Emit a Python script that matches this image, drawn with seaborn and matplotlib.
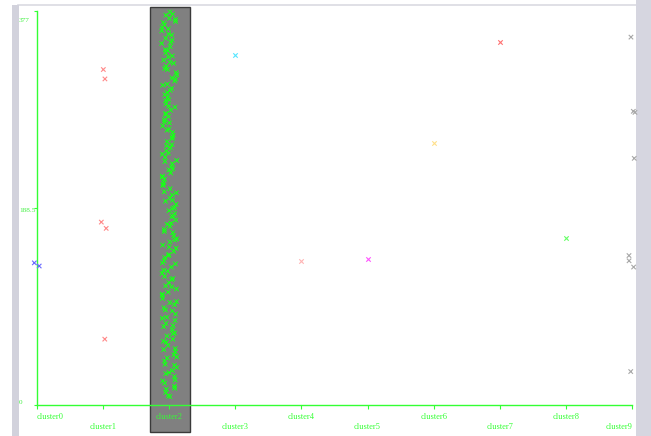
import numpy as np
import pandas as pd
import matplotlib
matplotlib.use('Agg')
import matplotlib.pyplot as plt
import matplotlib.transforms as mtransforms
from matplotlib.patches import Rectangle
import seaborn as sns

# 클러스터 이름과 색
clusters = ['cluster0', 'cluster1', 'cluster2', 'cluster3', 'cluster4',
            'cluster5', 'cluster6', 'cluster7', 'cluster8', 'cluster9']
colors = ['#6a6aff', '#ff8a8a', '#19ff19', '#55e6ff', '#ffb4b4',
          '#ff55ff', '#ffe08a', '#ff7070', '#66ff66', '#a8a8a8']

# 각 클러스터 값
vals0 = [136, 133]
vals1 = [321, 312, 175, 169, 63]
vals2 = [376, 374, 373, 370, 369, 367, 366, 364, 361, 360, 358, 355, 354, 351,
         349, 347, 346, 343, 340, 339, 337, 334, 333, 330, 328, 327, 324, 322,
         321, 318, 316, 313, 312, 310, 307, 306, 303, 301, 299, 297, 295, 292,
         291, 288, 286, 285, 282, 279, 278, 276, 273, 271, 270, 267, 264, 263,
         261, 258, 256, 255, 252, 249, 248, 246, 243, 241, 240, 237, 234, 233,
         231, 228, 226, 225, 222, 219, 218, 216, 213, 211, 210, 207, 204, 203,
         201, 198, 196, 195, 192, 189, 188, 186, 183, 181, 180, 177, 174, 173,
         171, 168, 166, 165, 162, 159, 158, 156, 153, 151, 150, 147, 144, 143,
         141, 138, 136, 135, 132, 129, 128, 126, 123, 121, 120, 117, 114, 113,
         111, 108, 106, 105, 102, 99, 98, 96, 93, 91, 90, 87, 84, 83, 81, 78,
         76, 75, 72, 69, 68, 66, 63, 61, 60, 57, 54, 53, 51, 48, 46, 45, 42,
         39, 38, 36, 33, 31, 30, 27, 24, 23, 21, 18, 16, 15, 12, 9, 8]
vals3 = [335]
vals4 = [138]
vals5 = [140]
vals6 = [251]
vals7 = [347]
vals8 = [160]
vals9 = [352, 280, 281, 236, 143, 138, 132, 32]
all_vals = [vals0, vals1, vals2, vals3, vals4, vals5, vals6, vals7, vals8, vals9]

yticks = [0, 188.5, 377]
ytick_labels = ['0', '188.5', '377']

df = pd.DataFrame({
    'cluster': [c for c, v in zip(clusters, all_vals) for _ in v],
    'value': [x for v in all_vals for x in v],
})

green = '#33ff33'
pal = dict(zip(clusters, colors))
np.random.seed(3)

fig = plt.figure(figsize=(6.51, 4.36), dpi=100)
ax = fig.add_axes([37 / 651, 31 / 436, 595 / 651, 394 / 436])
ax.set_zorder(5)

# 테두리 장식
fig.patches.append(Rectangle((12 / 651, 0), 7 / 651, 431 / 436, transform=fig.transFigure,
                             facecolor='#d2d2dc', edgecolor='none', zorder=0))
fig.patches.append(Rectangle((636 / 651, 0), 15 / 651, 1, transform=fig.transFigure,
                             facecolor='#d6d6e0', edgecolor='none', zorder=0))
fig.lines.append(plt.Line2D([644 / 651, 644 / 651], [0, 1], transform=fig.transFigure,
                            color='#b8b8c4', lw=1, zorder=0))
fig.lines.append(plt.Line2D([18 / 651, 636 / 651], [431 / 436, 431 / 436],
                            transform=fig.transFigure, color='#dadae2', lw=1.2, zorder=0))

# 선택된 클러스터는 넓게 흩뿌림
sel = df['cluster'] == 'cluster2'
sns.stripplot(data=df[sel], x='cluster', y='value', hue='cluster', order=clusters,
              palette=pal, marker='x', size=3.2, linewidth=0.8, jitter=0.12,
              legend=False, ax=ax, zorder=3)
sns.stripplot(data=df[~sel], x='cluster', y='value', hue='cluster', order=clusters,
              palette=pal, marker='x', size=3.2, linewidth=0.8, jitter=0.05,
              legend=False, ax=ax, zorder=3)
for c in ax.collections:
    c.set_clip_on(False)

ax.set_xlim(0, 9)
ax.set_ylim(0, 377)

# 선택된 클러스터 배경
ax.add_patch(Rectangle((2 - 0.29, -0.069), 0.60, 1.079,
                       transform=mtransforms.blended_transform_factory(ax.transData, ax.transAxes),
                       facecolor='#808080', edgecolor='#3a3a3a', lw=1, clip_on=False, zorder=0))

ax.set_xlabel('')
ax.set_ylabel('')
ax.set_facecolor('none')
for s in ['top', 'right']:
    ax.spines[s].set_visible(False)
for s in ['left', 'bottom']:
    ax.spines[s].set_color(green)
    ax.spines[s].set_linewidth(1)
    ax.spines[s].set_zorder(2)

ax.set_yticks(yticks)
ax.set_yticklabels(ytick_labels)
ax.tick_params(axis='both', colors=green, length=3, width=0.8, labelsize=6)
ax.tick_params(axis='y', length=2.5, pad=10.4, labelsize=5.2)
for lab in ax.get_yticklabels():
    lab.set_fontfamily('Liberation Serif')
    lab.set_color('#44f044')
    lab.set_horizontalalignment('left')
for lab, dy in zip(ax.get_yticklabels(), [2.5, -1.6, -6.6]):
    lab.set_transform(lab.get_transform() + mtransforms.ScaledTranslation(0, dy / 72, fig.dpi_scale_trans))

ax.set_xticks(range(10))
ax.set_xticklabels(clusters)
for i, lab in enumerate(ax.get_xticklabels()):
    lab.set_fontfamily('Liberation Serif')
    lab.set_color(green)
    dy = 1 if i % 2 == 0 else -9
    lab.set_transform(lab.get_transform() + mtransforms.ScaledTranslation(0, dy / 100, fig.dpi_scale_trans))
    if i == 0:
        lab.set_horizontalalignment('left')
    elif i == 9:
        lab.set_horizontalalignment('right')

fig.savefig('out.png', dpi=100)
